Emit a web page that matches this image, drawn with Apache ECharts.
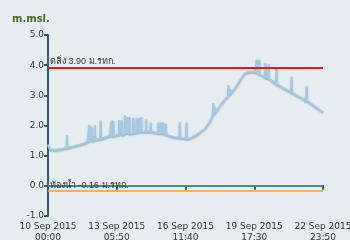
<!DOCTYPE html>
<html><head><meta charset="utf-8">
<script src="https://cdn.jsdelivr.net/npm/echarts@6/dist/echarts.min.js"></script>
<style>html,body{margin:0;padding:0;background:#e6edf0}#c{width:350px;height:240px}</style>
</head><body><div id="c"></div>
<script>
// hours since 10 Sep 2015 00:00
const xTickLabels = ['10 Sep 2015\n00:00','13 Sep 2015\n05:50','16 Sep 2015\n11:40','19 Sep 2015\n17:30','22 Sep 2015\n23:50'];
const xMax = 311.833;
const yTickMin = -1, yTickMax = 5;
// baseline water level readings (hour, m.msl.)
const baseHours = [0,   1.7, 8,    16,   22,   28,   36,   45,   52,   62,   70,   78,   90,   105,  119,  134,  143,  152,  161,  168,  178,  184,  189,  195,  200,  212,  219,  223,  229,  235,  242,  248,  263,  278,  295,  312];
const baseVals  = [1.37,1.22, 1.19, 1.22, 1.25, 1.30, 1.36, 1.45, 1.52, 1.58, 1.65, 1.70, 1.76, 1.79, 1.75, 1.67, 1.61, 1.56, 1.57, 1.68, 1.90, 2.15, 2.42, 2.65, 2.85, 3.23, 3.55, 3.72, 3.79, 3.77, 3.64, 3.58, 3.31, 3.07, 2.79, 2.44];
// spikes: hour, base level, peak level
const spikeHours = [21.5, 46.8, 49.5, 53.2, 59.8, 72.2, 74.1, 80.8, 83.5, 87.3, 89.9, 92.2, 96.7, 100.6, 103.4, 105.7, 111.3, 116.6, 125.1, 128.1, 130.8, 133.8, 149.6, 157.2, 187.4, 189.4, 204.6, 206.6, 236.6, 239.6, 246.5, 250.3, 259.3, 276.2, 293.4];
const spikeBase  = [1.25, 1.47, 1.49, 1.52, 1.56, 1.63, 1.64, 1.68, 1.69, 1.71, 1.72, 1.73, 1.75, 1.77, 1.78, 1.79, 1.79, 1.79, 1.75, 1.73, 1.71, 1.70, 1.59, 1.56, 2.35, 2.42, 2.98, 3.05, 3.76, 3.70, 3.60, 3.56, 3.38, 3.10, 2.82];
const spikeTops  = [1.68, 2.02, 1.95, 2.02, 2.17, 2.16, 2.16, 2.18, 2.18, 2.35, 2.28, 2.28, 2.26, 2.24, 2.24, 2.28, 2.20, 2.10, 2.11, 2.11, 2.11, 2.05, 2.11, 2.11, 2.74, 2.60, 3.34, 3.20, 4.18, 4.18, 4.08, 4.05, 3.93, 3.62, 3.32];
const bankLevel = 3.90, bedLevel = -0.16, zeroLevel = 0;
const bankLabel = 'ตลิ่ง 3.90 ม.รทก.';
const bedLabel = 'ท้องน้ำ -0.16 ม.รทก.';

const pts = [];
baseHours.forEach((h,i)=>pts.push({h:h,seq:[[h,baseVals[i]]]}));
spikeHours.forEach((h,i)=>pts.push({h:h,seq:[[h-0.25,spikeBase[i]],[h,spikeTops[i]],[h+0.25,spikeBase[i]]]}));
pts.sort((a,b)=>a.h-b.h);
const data = [];
pts.forEach(p=>p.seq.forEach(d=>data.push(d)));

const interval = xMax/4;
const chart = echarts.init(document.getElementById('c'));
chart.setOption({
  backgroundColor:'#e6edf0',
  animation:false,
  title:{text:'m.msl.',left:7,top:9,textStyle:{fontSize:10,fontWeight:'bold',color:'#46682a',fontFamily:'DejaVu Sans'}},
  grid:{left:48,right:27,top:35,bottom:24,containLabel:false,outerBoundsMode:'none'},
  xAxis:{type:'value',min:0,max:xMax,interval:interval,
    axisLine:{lineStyle:{color:'#2d5b6f',width:2}},
    axisTick:{length:4,lineStyle:{color:'#2d5b6f',width:2}},
    splitLine:{show:false},
    axisLabel:{color:'#333',fontSize:9,lineHeight:11,margin:5,fontFamily:'DejaVu Sans',showMaxLabel:true,showMinLabel:true,hideOverlap:false,
      formatter:v=>xTickLabels[Math.round(v/interval)]||''}},
  yAxis:{type:'value',min:yTickMin,max:yTickMax,interval:1,
    axisLine:{show:true,lineStyle:{color:'#2d5b6f',width:2}},
    axisTick:{show:true,length:4,lineStyle:{color:'#2d5b6f',width:2}},
    splitLine:{show:false},
    axisLabel:{color:'#333',fontSize:9,margin:4,fontFamily:'DejaVu Sans',formatter:v=>v.toFixed(1)}},
  series:[{type:'line',data:data,showSymbol:false,symbol:'none',
    lineStyle:{color:'#a0cbe8',width:2,shadowColor:'rgba(0,0,0,0.3)',shadowBlur:1.5,shadowOffsetY:1},
    markLine:{symbol:'none',silent:true,animation:false,
      data:[
        {yAxis:bankLevel,lineStyle:{color:'#e8191e',width:2,type:'solid'},
          label:{show:true,position:'insideStartTop',formatter:bankLabel,color:'#333',fontSize:9,distance:[2,2]}},
        {yAxis:zeroLevel,lineStyle:{color:'#6b8d9c',width:1.5,type:'solid'},label:{show:false}},
        {yAxis:bedLevel,lineStyle:{color:'#f0a02a',width:1.5,type:'solid'},
          label:{show:true,position:'insideStartTop',formatter:bedLabel,color:'#333',fontSize:9,distance:[2,1]}}
      ]}}]
});
</script></body></html>
